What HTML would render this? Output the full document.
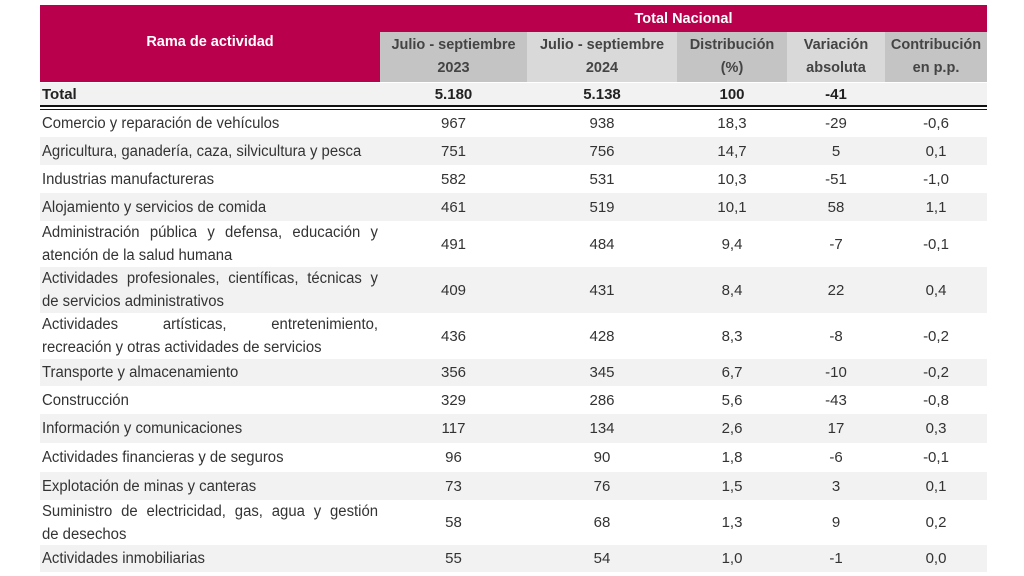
<!DOCTYPE html>
<html><head><meta charset="utf-8"><style>
body{margin:0;width:1024px;height:576px;background:#fff;position:relative;overflow:hidden;font-family:"Liberation Sans",sans-serif;color:#333;}
.a{position:absolute;box-sizing:border-box;}
.h{background:#b8004c;color:#fff;font-weight:bold;}
.c{display:flex;align-items:center;justify-content:center;text-align:center;}
.g{color:#444;font-weight:bold;font-size:14.5px;line-height:23px;}
.row{position:absolute;left:40px;width:947px;}
.lab{position:absolute;left:2px;top:0;height:100%;display:flex;align-items:center;}
.lab .w{transform:scaleX(0.96);transform-origin:left center;font-size:15.5px;line-height:23px;}
.lab .j{display:block;width:350px;text-align:justify;text-align-last:justify;white-space:nowrap;}
.lab .s{display:block;white-space:nowrap;}
.n{position:absolute;top:0;height:100%;display:flex;align-items:center;justify-content:center;font-size:15px;}
</style></head><body>
<div class="a h" style="left:40px;top:5px;width:947px;height:77px;"></div>
<div class="a c" style="left:40px;top:5px;width:340px;height:77px;color:#fff;font-weight:bold;font-size:14.5px;padding-bottom:4px;">Rama de actividad</div>
<div class="a c" style="left:380px;top:5px;width:607px;height:27px;color:#fff;font-weight:bold;font-size:14.5px;">Total Nacional</div>
<div class="a c g" style="left:380px;top:32px;width:147px;height:50px;background:#c4c4c4;">Julio - septiembre<br>2023</div>
<div class="a c g" style="left:527px;top:32px;width:150px;height:50px;background:#d9d9d9;">Julio - septiembre<br>2024</div>
<div class="a c g" style="left:677px;top:32px;width:110px;height:50px;background:#c4c4c4;">Distribución<br>(%)</div>
<div class="a c g" style="left:787px;top:32px;width:98px;height:50px;background:#d9d9d9;">Variación<br>absoluta</div>
<div class="a c g" style="left:885px;top:32px;width:102px;height:50px;background:#c4c4c4;">Contribución<br>en p.p.</div>
<div class="row" style="top:83px;height:23px;background:#f2f2f2;font-weight:bold;color:#222;">
<div class="lab" style="font-size:15px;">Total</div>
<div class="n" style="left:340px;width:147px;">5.180</div><div class="n" style="left:487px;width:150px;">5.138</div><div class="n" style="left:637px;width:110px;">100</div><div class="n" style="left:747px;width:98px;">-41</div>
</div>
<div class="a" style="left:40px;top:105px;width:947px;height:5px;border-top:2px solid #111;border-bottom:1.5px solid #111;"></div>
<div id="rows"></div>
<script>
const d=[
["Comercio y reparación de vehículos","967","938","18,3","-29","-0,6",110,137],
["Agricultura, ganadería, caza, silvicultura y pesca","751","756","14,7","5","0,1",137,165],
["Industrias manufactureras","582","531","10,3","-51","-1,0",165,193],
["Alojamiento y servicios de comida","461","519","10,1","58","1,1",193,221],
["Administración pública y defensa, educación y|atención de la salud humana","491","484","9,4","-7","-0,1",221,267],
["Actividades profesionales, científicas, técnicas y|de servicios administrativos","409","431","8,4","22","0,4",267,313],
["Actividades artísticas, entretenimiento,|recreación y otras actividades de servicios","436","428","8,3","-8","-0,2",313,359],
["Transporte y almacenamiento","356","345","6,7","-10","-0,2",359,386],
["Construcción","329","286","5,6","-43","-0,8",386,414],
["Información y comunicaciones","117","134","2,6","17","0,3",414,443],
["Actividades financieras y de seguros","96","90","1,8","-6","-0,1",443,472],
["Explotación de minas y canteras","73","76","1,5","3","0,1",472,500],
["Suministro de electricidad, gas, agua y gestión|de desechos","58","68","1,3","9","0,2",500,545],
["Actividades inmobiliarias","55","54","1,0","-1","0,0",545,572]];
const L=[[340,147],[487,150],[637,110],[747,98],[845,102]];
let h="";
d.forEach((r,i)=>{const p=r[0].split("|");
let t=p.length>1?`<span class="j">${p[0]}</span><span class="s">${p[1]}</span>`:`<span class="s">${p[0]}</span>`;
h+=`<div class="row" style="top:${r[6]}px;height:${r[7]-r[6]}px;background:${i%2?'#f2f2f2':'#fff'}"><div class="lab"><div class="w">${t}</div></div>`;
for(let k=0;k<5;k++)h+=`<div class="n" style="left:${L[k][0]}px;width:${L[k][1]}px">${r[k+1]}</div>`;
h+="</div>";});
document.getElementById("rows").innerHTML=h;
</script>
</body></html>
